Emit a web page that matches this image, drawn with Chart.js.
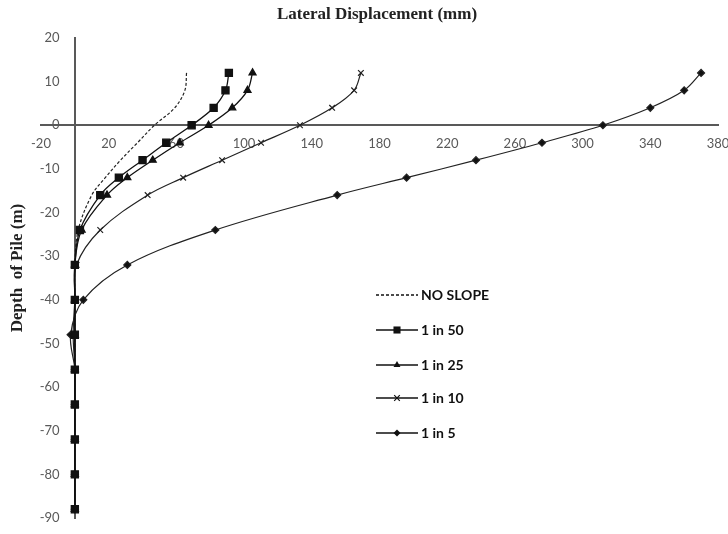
<!DOCTYPE html>
<html>
<head>
<meta charset="utf-8">
<script src="https://cdn.jsdelivr.net/npm/chart.js@4.4.1/dist/chart.umd.min.js"></script>
<style>
  html, body { margin: 0; padding: 0; background: #fff; }
  #wrap { width: 728px; height: 534px; position: relative; }
</style>
</head>
<body>
<div id="wrap"><canvas id="pileChart"></canvas></div>
<script>
// depth of pile (m) for every reading
const depths = [12, 8, 4, 0, -4, -8, -12, -16, -24, -32, -40, -48, -56, -64, -72, -80, -88];

// lateral displacement (mm) per slope
const noSlope = [66, 65, 59, 47, 37, 27, 18, 10, 2, 0, 0, 0, 0, 0, 0, 0, 0];
const slope50 = [91, 89, 82, 69, 54, 40, 26, 15, 3, 0, 0, 0, 0, 0, 0, 0, 0];
const slope25 = [105, 102, 93, 79, 62, 46, 31, 19, 4, 0, 0, 0, 0, 0, 0, 0, 0];
const slope10 = [169, 165, 152, 133, 110, 87, 64, 43, 15, 1, 0, -1, 0, 0, 0, 0, 0];
const slope5 = [370, 360, 340, 312, 276, 237, 196, 155, 83, 31, 5, -2.5, 0, 0, 0, 0, 0];

const seriesNames = ['NO SLOPE', '1 in 50', '1 in 25', '1 in 10', '1 in 5'];

// axis ticks
const xTicks = [-20, 20, 60, 100, 140, 180, 220, 260, 300, 340, 380];
const yTicks = [20, 10, 0, -10, -20, -30, -40, -50, -60, -70, -80, -90];

function toPoints(values) {
    return values.map((v, i) => ({ x: v, y: depths[i] }));
}

// draw a marker ourselves for the legend
function drawMarker(ctx, style, x, y, r) {
    ctx.save();
    ctx.fillStyle = '#111';
    ctx.strokeStyle = '#111';
    ctx.lineWidth = 1.2;
    ctx.beginPath();
    if (style === 'rect') {
        const s = Math.SQRT1_2 * r;
        ctx.rect(x - s, y - s, 2 * s, 2 * s);
        ctx.fill();
    } else if (style === 'triangle') {
        ctx.moveTo(x - r * 0.87, y + r * 0.5);
        ctx.lineTo(x + r * 0.87, y + r * 0.5);
        ctx.lineTo(x, y - r);
        ctx.closePath();
        ctx.fill();
    } else if (style === 'crossRot') {
        const s = r * 0.7;
        ctx.moveTo(x - s, y - s); ctx.lineTo(x + s, y + s);
        ctx.moveTo(x + s, y - s); ctx.lineTo(x - s, y + s);
        ctx.stroke();
    } else if (style === 'rectRot') {
        ctx.moveTo(x - r, y); ctx.lineTo(x, y - r);
        ctx.lineTo(x + r, y); ctx.lineTo(x, y + r);
        ctx.closePath();
        ctx.fill();
    }
    ctx.restore();
}

// titles and the legend inside the plot
const extraText = {
    id: 'extraText',
    afterDraw(chart) {
        const ctx = chart.ctx;
        ctx.save();
        ctx.fillStyle = '#222';
        ctx.textAlign = 'center';
        ctx.textBaseline = 'middle';
        ctx.font = 'bold 17px "Liberation Serif"';
        ctx.fillText('Lateral Displacement (mm)', 377, 15);

        ctx.translate(18, 268);
        ctx.rotate(-Math.PI / 2);
        ctx.font = 'bold 17px "Liberation Serif"';
        ctx.fillText('Depth  of Pile (m)', 0, 0);
        ctx.restore();

        // legend
        const rows = [295, 330, 365, 398, 433];
        chart.data.datasets.forEach((ds, i) => {
            const y = rows[i];
            ctx.save();
            ctx.strokeStyle = '#111';
            ctx.lineWidth = 1.3;
            if (ds.borderDash) ctx.setLineDash(ds.borderDash);
            ctx.beginPath();
            ctx.moveTo(376, y);
            ctx.lineTo(418, y);
            ctx.stroke();
            ctx.restore();
            if (ds.pointRadius > 0) drawMarker(ctx, ds.pointStyle, 397, y, ds.pointRadius);
            ctx.save();
            ctx.fillStyle = '#111';
            ctx.font = 'bold 14px Lato';
            ctx.textAlign = 'left';
            ctx.textBaseline = 'middle';
            ctx.fillText(ds.label, 421, y);
            ctx.restore();
        });
    }
};

const ctx = document.getElementById('pileChart').getContext('2d');

new Chart(ctx, {
    type: 'scatter',
    data: {
        datasets: [
            {
                label: seriesNames[0],
                data: toPoints(noSlope),
                borderColor: '#222',
                borderWidth: 1.2,
                borderDash: [3, 2],
                pointRadius: 0,
                pointStyle: false,
                order: 4
            },
            {
                label: seriesNames[1],
                data: toPoints(slope50),
                borderColor: '#111',
                backgroundColor: '#111',
                borderWidth: 1.3,
                pointStyle: 'rect',
                pointRadius: 5,
                order: 0
            },
            {
                label: seriesNames[2],
                data: toPoints(slope25),
                borderColor: '#111',
                backgroundColor: '#111',
                borderWidth: 1.3,
                pointStyle: 'triangle',
                pointRadius: 4,
                order: 1
            },
            {
                label: seriesNames[3],
                data: toPoints(slope10),
                borderColor: '#222',
                backgroundColor: '#222',
                borderWidth: 1.2,
                pointStyle: 'crossRot',
                pointRadius: 4,
                order: 2
            },
            {
                label: seriesNames[4],
                data: toPoints(slope5),
                borderColor: '#222',
                backgroundColor: '#111',
                borderWidth: 1.2,
                pointStyle: 'rectRot',
                pointRadius: 3.5,
                order: 3
            }
        ]
    },
    options: {
        responsive: true,
        maintainAspectRatio: false,
        animation: false,
        showLine: true,
        elements: {
            line: { tension: 0.35, fill: false },
            point: { borderWidth: 1.2, hoverRadius: 5 }
        },
        layout: {
            padding: { left: 41, right: 10, top: 38, bottom: 16 }
        },
        scales: {
            x: {
                type: 'linear',
                position: { y: 0 },
                min: xTicks[0],
                max: xTicks[xTicks.length - 1],
                grid: { display: false, drawTicks: false },
                border: { display: true, color: '#595959', width: 2 },
                ticks: {
                    stepSize: xTicks[1] - xTicks[0],
                    color: '#595959',
                    font: { family: 'Lato', size: 13 },
                    padding: 11,
                    maxRotation: 0
                },
                // let the last label run to the edge like the original
                afterFit(scale) {
                    scale.paddingRight = 0;
                    scale.paddingLeft = 0;
                }
            },
            // the vertical axis line crosses at zero displacement
            y: {
                type: 'linear',
                position: { x: 0 },
                min: yTicks[yTicks.length - 1],
                max: yTicks[0],
                grid: { display: false, drawTicks: false },
                border: { display: true, color: '#595959', width: 2 },
                ticks: { display: false, stepSize: yTicks[0] - yTicks[1] }
            },
            // depth labels sit a little left of that line
            yLabels: {
                type: 'linear',
                position: { x: -9 },
                min: yTicks[yTicks.length - 1],
                max: yTicks[0],
                grid: { display: false, drawTicks: false },
                border: { display: false },
                ticks: {
                    stepSize: yTicks[0] - yTicks[1],
                    color: '#595959',
                    font: { family: 'Lato', size: 13 }
                }
            }
        },
        plugins: {
            legend: { display: false },
            title: { display: false },
            tooltip: { enabled: false }
        }
    },
    plugins: [extraText]
});
</script>
</body>
</html>
